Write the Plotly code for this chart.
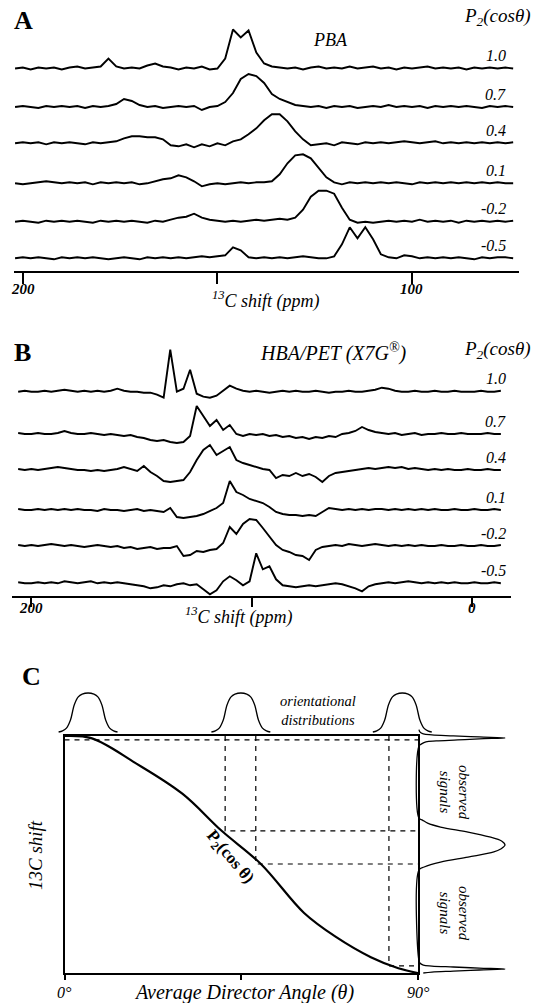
import plotly.graph_objects as go

W, H = 537, 1003
FONT = "Liberation Serif"

# ---------------- data ----------------
p2_levels = ["1.0", "0.7", "0.4", "0.1", "-0.2", "-0.5"]

# Panel A: PBA, ppm grid 202 .. 74
ppm_a = list(range(202, 73, -2))
pba_10 = [0, 1, -1, 1, 0, 1, -1, 1, 2, 0, 1, 2, 10, 2, 0, 1, 0, 3, 5, 2,
          1, -1, 1, 0, 2, -1, 0, 10, 39, 31, 38, 16, 5, 2, 1, 0, 1, -1, 1, 2,
          0, 1, 0, 2, 0, 1, 2, 0, 1, -1, 1, 0, 1, 2, 0, 1, 0, 1, -1, 1,
          0, 1, 0, 1, 0]
pba_07 = [0, 1, 0, -1, 1, 0, 1, 0, 1, -1, 1, 0, 1, 3, 8, 6, 2, 0, 1, -1,
          0, 1, 0, 1, -3, 0, 1, 5, 14, 28, 33, 31, 24, 13, 8, 5, 2, 1, 0, 1,
          -1, 1, 0, 1, -1, 0, 1, 0, 2, 0, 1, 0, 1, -1, 1, 0, 1, 0, 1, 0,
          -1, 1, 0, 1, 0]
pba_04 = [0, 1, 0, 1, -1, 1, 0, 1, 0, -1, 1, 0, 1, 2, 5, 7, 7, 6, 6, 4,
          -2, -3, -1, -4, -1, -3, 0, -2, 2, 4, 9, 15, 23, 29, 29, 22, 12, 4, -2, -1,
          0, -2, 1, 0, -1, 1, 0, 1, 0, 1, 2, 1, 0, 1, 2, 0, 1, 0, 1, 0,
          1, 0, 1, 0, 1]
pba_01 = [0, -1, 0, 1, 2, 1, 0, 1, 0, 1, -1, 1, 0, 1, 0, 1, -1, 0, 2, 4,
          5, 8, 6, 2, -3, -1, 0, -1, 0, 1, 0, 1, 1, 2, 9, 20, 28, 29, 25, 15,
          6, 1, -1, 1, 0, 1, 0, 1, 0, 1, 0, -1, 1, 0, 1, 0, 1, 0, 1, 0,
          1, 0, 1, 0, 0]
pba_m02 = [0, 1, 0, -1, 1, 0, 1, 0, 1, 0, -1, 1, 0, 1, 0, 1, 0, -1, 1, 0,
           2, 4, 5, 8, 4, 2, 1, 0, 1, 0, 1, 2, 1, 2, 3, 2, 4, 12, 25, 31,
           31, 28, 14, 2, -1, 0, -1, 0, 1, 0, 1, 0, 2, 0, 1, 0, 1, -1, 1, 0,
           1, 0, 1, 0, 1]
pba_m05 = [0, 1, 0, 1, 0, -1, 1, 0, 1, 0, 1, 0, -1, 0, 1, 0, -1, 1, 0, 1,
           0, 1, 0, 1, 2, 1, 2, 3, 11, 8, 1, 0, 1, 0, 1, 0, 1, 2, 1, 0,
           0, 2, 14, 31, 20, 31, 19, 4, 1, 0, 3, 2, 0, 1, 0, 1, 0, 1, 0, -1,
           1, 0, 1, 1, 0]
pba_series = [pba_10, pba_07, pba_04, pba_01, pba_m02, pba_m05]

# Panel B: HBA/PET (X7G), ppm grid 206 .. -13
ppm_b = list(range(206, -14, -3))
x7g_10 = [0, 1, 0, 0, 1, 0, 1, 2, 1, 0, 1, 0, 1, 0, 1, 3, 1, 0, 0, -1,
          -1, -3, -6, 42, 0, 3, 22, -2, -5, -6, -4, 1, 6, 3, 1, 0, 1, 0, -1, 0,
          1, 0, 1, 0, 0, 1, 0, -1, 0, 0, 1, 0, 0, 1, 2, 4, 3, 1, 0, 0,
          1, 0, 0, 1, 0, 0, 1, 0, 0, 0, 1, 0, 0, 1]
x7g_07 = [1, 0, 0, 1, 0, 0, 1, 3, 1, 0, 0, 1, 0, -1, 0, -1, -2, -1, -3, -4,
          -6, -7, -6, -8, -9, -8, -2, 28, 18, 8, 14, 4, 9, 0, -2, 0, -1, 0, -2, -1,
          -3, -2, -4, -3, -5, -3, -4, -2, -3, 0, 1, 3, 7, 4, 2, 1, 0, 1, -1, 0,
          1, -1, 0, 0, 1, 0, 0, 1, 0, 0, 0, 1, 0, 0]
x7g_04 = [1, 0, 1, 0, 1, 2, 3, 2, 1, 0, 0, -1, 0, -1, 0, 1, 3, 1, -1, 4,
          -2, -6, -11, -12, -11, -10, -2, 10, 20, 25, 15, 19, 23, 10, 7, 5, 3, 1, 0, -8,
          -5, -6, -3, -6, -4, -7, -12, -6, -3, -2, -1, 0, 1, 2, 1, 2, 3, 2, 3, 1,
          2, 1, 0, 1, 0, 1, 0, 0, 1, 0, 0, 1, 0, 0]
x7g_01 = [1, 0, 0, 1, 0, 1, 0, 1, 0, 1, 0, 0, -1, 1, 0, 0, -1, 0, 1, -1,
          0, -1, -2, 2, -7, -8, -7, -6, -4, -1, 2, 7, 29, 18, 15, 11, 9, 7, 3, -2,
          -4, -5, -5, -6, -5, -6, -2, 2, 1, 0, 1, 0, 1, 0, 1, 1, 0, 1, 0, 1,
          0, 1, 0, 1, 0, 0, 1, 0, 0, 1, 0, 0, 1, 0]
x7g_m02 = [1, 0, 1, 0, 1, 2, 1, 0, 1, 0, -1, 0, 1, 0, -1, 0, -2, -1, -3, -2,
           -1, -3, -2, -2, 0, -10, -9, -5, -6, -4, -3, 3, 19, 12, 22, 27, 26, 18, 10, 1,
           -4, -6, -9, -10, -14, -4, -1, 0, 1, 0, 2, 1, 0, 1, 2, 1, 0, 1, 0, 1,
           0, 1, 0, 0, 1, 0, 0, 1, 0, 0, 1, 0, 0, 1]
x7g_m05 = [1, 0, 0, 1, 0, 1, 0, 2, 1, 0, 1, 2, 0, 1, 0, 1, 0, -1, -2, -3,
           -5, -4, -2, -3, -1, 0, -2, -1, -6, -11, -7, 2, 7, 3, -2, 2, 30, 14, 17, 4,
           -2, -3, -4, -3, -2, -3, -2, -1, 0, -1, -3, -5, -8, -3, -1, 0, 1, 0, 1, 2,
           1, 0, 1, 0, 1, 0, 1, 0, 0, 1, 0, 0, 1, 0]
x7g_series = [x7g_10, x7g_07, x7g_04, x7g_01, x7g_m02, x7g_m05]

a_ticks = [200, 150, 100]
a_ticktext = ["200", "", "100"]
b_ticks = [200, 100, 0]
b_ticktext = ["200", "", "0"]

# Panel C: schematic
theta_pts = [0, 7, 18, 30, 40, 50, 61, 69, 78, 85, 90]
p2_curve = [1.0, 0.985, 0.83, 0.635, 0.40, 0.19, -0.12, -0.27, -0.40, -0.47, -0.5]
dist_centers = [6, 44.9, 86]
bell_offsets = [-7.5, -6.5, -5.5, -4.5, -3.5, -2.5, -1.5, 0, 1.5, 2.5, 3.5, 4.5, 5.5, 6.5, 7.5]
bell_heights = [0.0, 0.03, 0.1, 0.3, 0.7, 0.9, 0.97, 1.0, 0.97, 0.9, 0.7, 0.3, 0.1, 0.03, 0.0]
dash_angles = [40.9, 48.7, 82.6]
dash_levels = [0.40, 0.19, -0.455]
top_dash_level = 0.975
obs_p2 = [1.04, 1.026, 1.013, 1.007, 1.001, 0.994, 0.988, 0.982, 0.975, 0.969, 0.963, 0.950, 0.937,
          0.48, 0.468, 0.449, 0.424, 0.392, 0.361, 0.335, 0.31, 0.285, 0.266, 0.234, 0.202, 0.171, 0.152,
          -0.424, -0.437, -0.450, -0.456, -0.462, -0.469, -0.475, -0.481, -0.488, -0.494, -0.50]
obs_int = [0, 0.01, 0.05, 0.15, 0.4, 0.7, 1.0, 0.7, 0.45, 0.2, 0.08, 0.03, 0,
           0, 0.04, 0.1, 0.25, 0.57, 0.82, 0.96, 1.0, 0.95, 0.87, 0.57, 0.25, 0.06, 0,
           0, 0.01, 0.05, 0.15, 0.4, 0.7, 1.0, 0.7, 0.4, 0.15, 0.05]
angle_ticks = [0, 45, 90]
angle_ticktext = ["0°", "", "90°"]

# ---------------- layout constants (pixels) ----------------
A_X0, A_X1, A_YB, A_YT = 13.5, 519.0, 271.0, 8.0
A_RANGE = [202.4, 72.5]
A_BASE = [68.5, 107, 143.3, 183.3, 221.7, 258.3]
B_X0, B_X1, B_YB, B_YT = 12.0, 511.0, 596.0, 330.0
B_RANGE = [208.8, -17.6]
B_BASE = [391.7, 434, 470, 510, 546, 583.3]
C_X0, C_X1, C_YT, C_YB = 64.5, 418.0, 736.0, 973.0
O_X0, O_X1, O_YT, O_YB = 20.0, 537.0, 670.0, 1000.0


def px(x):
    return x / W


def py(y):
    return 1 - y / H


fig = go.Figure()

# spectra panel A
for vals, b in zip(pba_series, A_BASE):
    off = A_YB - b
    fig.add_trace(go.Scatter(x=ppm_a, y=[v + off for v in vals], mode="lines",
                             line=dict(color="black", width=1.9), xaxis="x", yaxis="y",
                             hoverinfo="skip"))
# spectra panel B
for vals, b in zip(x7g_series, B_BASE):
    off = B_YB - b
    fig.add_trace(go.Scatter(x=ppm_b, y=[v + off for v in vals], mode="lines",
                             line=dict(color="black", width=1.9), xaxis="x2", yaxis="y2",
                             hoverinfo="skip"))

# panel C: dashed guides
dx, dy = [0, 90, None], [top_dash_level, top_dash_level, None]
for a, lv in zip(dash_angles, dash_levels):
    dx += [a, a, 90, None]
    dy += [1.0, lv, lv, None]
fig.add_trace(go.Scatter(x=dx, y=dy, mode="lines",
                         line=dict(color="black", width=1.2, dash="5px,5px"),
                         xaxis="x3", yaxis="y3", hoverinfo="skip"))
# P2 curve
fig.add_trace(go.Scatter(x=theta_pts, y=p2_curve, mode="lines", line_shape="spline",
                         line=dict(color="black", width=2.2), xaxis="x3", yaxis="y3",
                         hoverinfo="skip"))

# overlay axes for bells and observed signals
ppd = (C_X1 - C_X0) / 90.0
ppu = (C_YB - C_YT) / 1.5
o_xrange = [(O_X0 - C_X0) / ppd, (O_X1 - C_X0) / ppd]
o_yrange = [1 - (O_YB - C_YT) / ppu, 1 - (O_YT - C_YT) / ppu]
bell_base = 1 + 4 / ppu
bell_amp = 39 / ppu
for c in dist_centers:
    fig.add_trace(go.Scatter(x=[c + o for o in bell_offsets],
                             y=[bell_base + bell_amp * h for h in bell_heights],
                             mode="lines", line_shape="spline",
                             line=dict(color="black", width=1.3), xaxis="x4", yaxis="y4",
                             hoverinfo="skip"))
sig_base = 90 + 1.0 / ppd
sig_amp = 86 / ppd
fig.add_trace(go.Scatter(x=[sig_base + sig_amp * v for v in obs_int], y=obs_p2,
                         mode="lines", line_shape="spline",
                         line=dict(color="black", width=1.3), xaxis="x4", yaxis="y4",
                         hoverinfo="skip"))

hidden = dict(visible=False, showgrid=False, zeroline=False)
fig.update_layout(
    width=W, height=H, margin=dict(l=0, r=0, t=0, b=0),
    paper_bgcolor="white", plot_bgcolor="rgba(0,0,0,0)", showlegend=False,
    xaxis=dict(domain=[px(A_X0), px(A_X1)], range=A_RANGE, anchor="y",
               showline=True, linecolor="black", linewidth=2, showgrid=False, zeroline=False,
               ticks="outside", tickvals=a_ticks, ticklen=11, tickwidth=2, tickcolor="black",
               showticklabels=False),
    yaxis=dict(domain=[py(A_YB), py(A_YT)], range=[0, A_YB - A_YT], anchor="x", **hidden),
    xaxis2=dict(domain=[px(B_X0), px(B_X1)], range=B_RANGE, anchor="y2",
                showline=True, linecolor="black", linewidth=2, showgrid=False, zeroline=False,
                ticks="outside", tickvals=b_ticks, ticklen=9, tickwidth=2, tickcolor="black",
                showticklabels=False),
    yaxis2=dict(domain=[py(B_YB), py(B_YT)], range=[0, B_YB - B_YT], anchor="x2", **hidden),
    xaxis3=dict(domain=[px(C_X0), px(C_X1)], range=[0, 90], anchor="y3",
                showline=True, mirror=True, linecolor="black", linewidth=2,
                showgrid=False, zeroline=False, ticks="outside", tickvals=angle_ticks,
                ticklen=5, tickwidth=1.5, tickcolor="black", showticklabels=False),
    yaxis3=dict(domain=[py(C_YB), py(C_YT)], range=[-0.5, 1.0], anchor="x3",
                showline=True, mirror=True, linecolor="black", linewidth=2,
                showgrid=False, zeroline=False, ticks="", showticklabels=False),
    xaxis4=dict(domain=[px(O_X0), px(O_X1)], range=o_xrange, anchor="y4", **hidden),
    yaxis4=dict(domain=[py(O_YB), py(O_YT)], range=o_yrange, anchor="x4", **hidden),
)

anns = []


def ann(text, x, y, size, xanchor="center", yanchor="middle", angle=0, xref="paper"):
    anns.append(dict(text=text, x=x if xref != "paper" else px(x), y=py(y),
                     xref=xref, yref="paper", showarrow=False, textangle=angle,
                     xanchor=xanchor, yanchor=yanchor,
                     font=dict(family=FONT, size=size, color="black")))


# panel letters
ann("<b>A</b>", 12, 20, 26, xanchor="left")
ann("<b>B</b>", 12, 352, 26, xanchor="left")
ann("<b>C</b>", 20, 676, 26, xanchor="left")
# headers
hdr = "<i>P<sub>2</sub>(cosθ)</i>"
ann(hdr, 533, 17, 19, xanchor="right")
ann(hdr, 533, 350, 19, xanchor="right")
ann("<i>PBA</i>", 330, 40, 18)
ann("<i>HBA/PET (X7G<sup>®</sup>)</i>", 333, 352, 20)
# level labels
for lab, b in zip(p2_levels, A_BASE):
    ann("<i>" + lab + "</i>", 508, b - 13, 16, xanchor="right")
for lab, b in zip(p2_levels, B_BASE):
    ann("<i>" + lab + "</i>", 508, b - 13, 16, xanchor="right")
# tick labels
for v, t in zip(a_ticks, a_ticktext):
    if t:
        ann("<b><i>" + t + "</i></b>", v, 289, 15, xref="x")
for v, t in zip(b_ticks, b_ticktext):
    if t:
        ann("<b><i>" + t + "</i></b>", v, 608, 15, xref="x2")
ann("<i><sup>13</sup>C shift (ppm)</i>", 266, 300, 18)
ann("<i><sup>13</sup>C shift (ppm)</i>", 239, 616, 18)
# panel C texts
for v, t in zip(angle_ticks, angle_ticktext):
    if t:
        ann("<i>" + t + "</i>", v, 992, 16, xref="x3")
ann("<i>Average Director Angle (θ)</i>", 244, 992, 20)
ann("<i>13C shift</i>", 35, 855, 19, angle=-90)
ann("<i>orientational<br>distributions</i>", 318, 710, 14.5)
ann("<i>observed<br>signals</i>", 454, 792, 15, angle=90)
ann("<i>observed<br>signals</i>", 454, 913, 15, angle=90)
ann("<b>P<sub>2</sub>(cos θ)</b>", 229, 857, 17, angle=50)

fig.update_layout(annotations=anns)
fig.write_html("out.html", config={"displayModeBar": False},
               post_script="document.body.style.margin='0px';document.body.style.overflow='hidden';")
